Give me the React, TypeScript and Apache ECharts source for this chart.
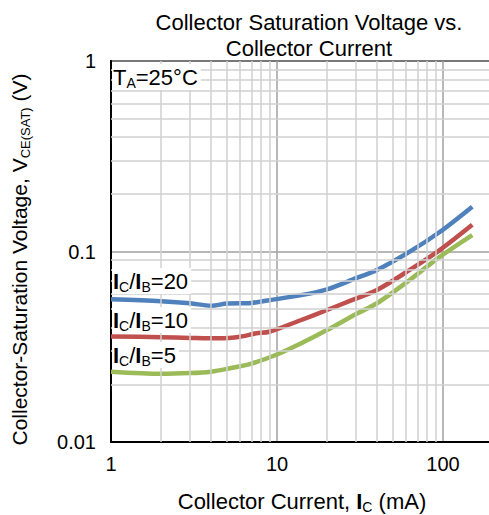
import { useEffect, useRef } from 'react';
import * as echarts from 'echarts';

const FONT = '"Liberation Sans", Arial, Helvetica, sans-serif';

const TITLE_LINES = ['Collector Saturation Voltage vs.', 'Collector Current'];

// Decade ticks and the 2..9 sub-divisions of each decade
const X_TICKS = [1, 10, 100];
const Y_TICKS = [0.01, 0.1, 1];
const X_MINOR = [2, 3, 4, 5, 6, 7, 8, 9, 20, 30, 40, 50, 60, 70, 80, 90];
const Y_MINOR = [0.02, 0.03, 0.04, 0.05, 0.06, 0.07, 0.08, 0.09, 0.2, 0.3, 0.4, 0.5, 0.6, 0.7, 0.8, 0.9];

// Collector current (mA) and saturation voltage (V) per forced gain
const IC_20 = [1, 2, 3, 4, 5, 7, 9, 14, 20, 30, 40, 63, 96, 150];
const VCE_20 = [0.0561, 0.0548, 0.0535, 0.0519, 0.0533, 0.0537, 0.0555, 0.059, 0.0633, 0.0725, 0.08, 0.0998, 0.127, 0.172];

const IC_10 = [1, 2, 3, 4.5, 6, 7.5, 9, 14, 20, 27.5, 40, 63, 96, 150];
const VCE_10 = [0.0358, 0.0355, 0.0352, 0.035, 0.0357, 0.0372, 0.0379, 0.0437, 0.0493, 0.055, 0.0628, 0.08, 0.102, 0.138];

const IC_5 = [1, 2, 3, 4, 5, 7, 10, 14, 20, 30, 40, 63, 96, 150];
const VCE_5 = [0.0234, 0.0228, 0.023, 0.0234, 0.0242, 0.0258, 0.0288, 0.033, 0.0387, 0.047, 0.0535, 0.0709, 0.094, 0.122];

const SERIES = [
  { name: 'IC/IB=20', ic: IC_20, vce: VCE_20, color: '#4f81bd', label: '20', labelTop: 268 },
  { name: 'IC/IB=10', ic: IC_10, vce: VCE_10, color: '#c0504d', label: '10', labelTop: 307 },
  { name: 'IC/IB=5', ic: IC_5, vce: VCE_5, color: '#9bbb59', label: '5', labelTop: 342 },
];

const isTick = (v: number, ticks: number[]) => ticks.some((t) => Math.abs(v - t) / t < 1e-6);

const makeRich = (size: number) => ({
  n: { fontSize: size, fontFamily: FONT, color: '#000', lineHeight: size + 4 },
  b: { fontSize: size, fontFamily: FONT, color: '#000', fontWeight: 'bold', lineHeight: size + 4 },
  s: { fontSize: Math.round(size * 0.64), fontFamily: FONT, color: '#000', lineHeight: Math.round(size * 0.64), verticalAlign: 'bottom' },
});

const rich22 = makeRich(22);
const rich21 = makeRich(21);

export default function App() {
  const ref = useRef<HTMLDivElement>(null);

  useEffect(() => {
    if (!ref.current) return;
    const chart = echarts.init(ref.current, null, { renderer: 'svg' });

    const minorLines = [
      ...X_MINOR.map((x) => ({ xAxis: x })),
      ...Y_MINOR.map((y) => ({ yAxis: y })),
    ];

    const option: any = {
      animation: false,
      backgroundColor: '#fff',
      title: {
        text: TITLE_LINES.join('\n'),
        left: 304,
        top: 4,
        textAlign: 'center',
        textStyle: { fontFamily: FONT, fontSize: 22, fontWeight: 'normal', color: '#000', lineHeight: 26 },
      },
      grid: {
        left: 111,
        top: 61,
        right: 0,
        bottom: 73,
        containLabel: false,
        outerBoundsMode: 'none',
        show: true,
        borderColor: '#000',
        borderWidth: 2,
        backgroundColor: 'transparent',
      },
      xAxis: {
        type: 'log',
        logBase: 10,
        min: 1,
        max: 200,
        name: '{n|Collector Current, }{b|I}{s|C}{n| (mA)}',
        nameLocation: 'middle',
        nameGap: 46,
        nameTextStyle: { rich: rich22, fontSize: 22 },
        axisLine: { show: true, lineStyle: { color: '#000', width: 2 } },
        axisTick: { show: false },
        axisLabel: {
          margin: 12,
          fontFamily: FONT,
          fontSize: 20,
          color: '#000',
          formatter: (v: number) => (isTick(v, X_TICKS) ? String(Math.round(v)) : ''),
        },
        splitLine: { show: true, lineStyle: { color: '#a0a0a0', width: 1.5 } },
      },
      yAxis: {
        type: 'log',
        logBase: 10,
        min: 0.01,
        max: 1,
        name: '{n|Collector-Saturation Voltage, V}{s|CE(SAT)}{n| (V)}',
        nameLocation: 'middle',
        nameRotate: 90,
        nameGap: 79,
        nameTextStyle: { rich: rich21, fontSize: 21, padding: [0, 16, 0, 0] },
        axisLine: { show: true, lineStyle: { color: '#000', width: 2 } },
        axisTick: { show: false },
        axisLabel: {
          margin: 15,
          fontFamily: FONT,
          fontSize: 20,
          color: '#000',
          formatter: (v: number) => {
            const t = Y_TICKS.find((k) => Math.abs(v - k) / k < 1e-6);
            return t === undefined ? '' : String(t);
          },
        },
        splitLine: { show: true, lineStyle: { color: '#a0a0a0', width: 1.5 } },
      },
      series: [
        {
          type: 'line',
          name: 'minor-grid',
          data: [],
          silent: true,
          z: 1,
          markLine: {
            silent: true,
            symbol: 'none',
            animation: false,
            label: { show: false },
            emphasis: { disabled: true },
            lineStyle: { color: '#d0d0d0', width: 1.5, type: 'solid' },
            data: minorLines,
          },
        },
        ...SERIES.map((s) => ({
          type: 'line',
          name: s.name,
          data: s.ic.map((x, i) => [x, s.vce[i]]),
          showSymbol: false,
          symbol: 'none',
          smooth: 0.3,
          z: 3,
          lineStyle: { color: s.color, width: 4.5 },
          itemStyle: { color: s.color },
          emphasis: { disabled: true },
        })),
      ],
      graphic: [
        {
          type: 'text',
          left: 112,
          top: 64,
          z: 10,
          style: {
            text: '{n|T}{s|A}{n|=25°C}',
            rich: rich22,
            backgroundColor: '#fff',
            padding: [0, 3, 0, 1],
          },
        },
        ...SERIES.map((s) => ({
          type: 'text',
          left: 112,
          top: s.labelTop,
          z: 10,
          style: {
            text: `{b|I}{s|C}{n|/}{b|I}{s|B}{n|=${s.label}}`,
            rich: rich22,
            backgroundColor: '#fff',
            padding: [0, 3, 0, 1],
          },
        })),
      ],
    };

    chart.setOption(option);
    return () => chart.dispose();
  }, []);

  return (
    <div style={{ position: 'fixed', left: 0, top: 0, width: 489, height: 515, overflow: 'hidden', background: '#fff' }}>
      <div ref={ref} style={{ width: 493, height: 515 }} />
    </div>
  );
}
